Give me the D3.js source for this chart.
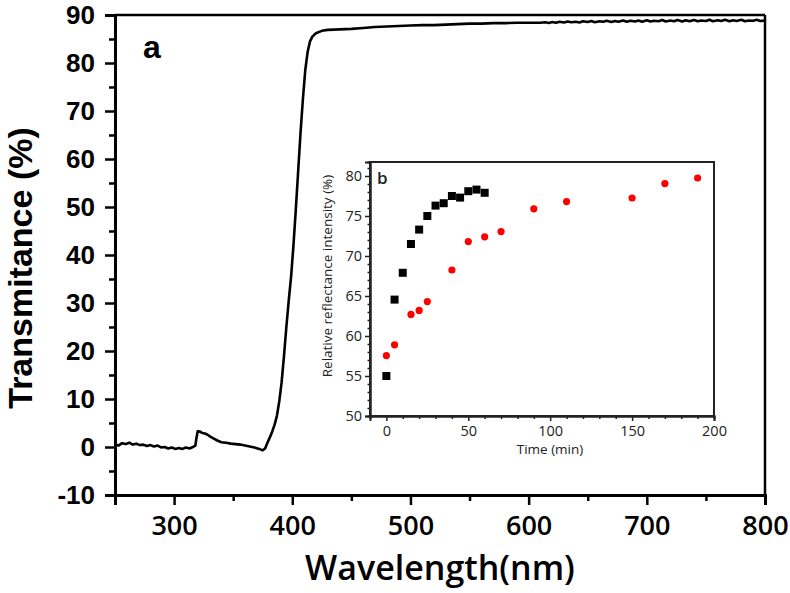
<!DOCTYPE html>
<html><head><meta charset="utf-8">
<script src="https://cdn.jsdelivr.net/npm/d3@7"></script>
<style>body{margin:0;background:#fff}svg{display:block}</style>
</head><body>
<svg id="c" width="790" height="593"></svg>
<script>
// Main spectrum (wavelength nm, transmitance %)
const wavelength = [250,253,256,259,262,265,268,271,274,277,280,283,286,289,292,295,298,301,304,307,310,313,316,318,319,320,322,324,326,328,331,334,337,340,344,348,352,356,360,364,368,372,375,377,379,381,383,385,387,389,391,393,395,397,399,401,403,405,407,409,411,413,415,417,420,425,430,440,450,460,470,480,490,500,510,520,530,540,550,560,570,580,590,600,610,614,617,620,623,626,630,633,636,640,643,646,650,653,656,660,663,666,670,673,676,680,683,686,690,693,696,700,703,706,710,713,716,720,723,726,730,733,736,740,743,746,750,753,756,760,763,766,770,773,776,780,783,786,790,793,796,800];
const transmitance = [0.5,0.3,0.8,0.6,0.9,0.5,0.7,0.4,0.5,0.2,0.4,0.1,0.3,-0.1,0.0,-0.3,-0.1,-0.4,-0.2,-0.4,-0.1,-0.3,0.0,0.3,2.0,3.3,3.2,2.9,2.8,2.6,2.1,1.7,1.3,1.0,0.9,0.7,0.6,0.5,0.3,0.1,-0.1,-0.4,-0.7,-0.3,0.9,2.0,3.2,4.6,6.5,9.5,13.5,19,25,30.5,35.5,42,49.5,57.5,65.5,72.5,78.5,82.3,84.5,85.5,86.2,86.7,86.9,87.0,87.1,87.3,87.5,87.6,87.7,87.8,87.9,87.9,88.0,88.1,88.2,88.2,88.3,88.3,88.4,88.4,88.4,88.5,88.35,88.55,88.4,88.6,88.45,88.65,88.5,88.6,88.45,88.7,88.55,88.75,88.5,88.7,88.6,88.8,88.55,88.75,88.6,88.85,88.6,88.8,88.65,88.85,88.6,88.9,88.65,88.8,88.7,88.95,88.65,88.85,88.7,88.95,88.65,88.9,88.7,88.95,88.7,88.85,88.75,89.0,88.7,88.9,88.75,89.0,88.7,88.9,88.75,89.0,88.7,88.85,88.8,89.0,88.75,88.85];
const xTicksMain = [300,400,500,600,700,800];
const xMinorMain = [250,350,450,550,650,750];
const yTicksMain = [-10,0,10,20,30,40,50,60,70,80,90];
const yMinorMain = [-5,5,15,25,35,45,55,65,75,85];

// Inset (time min, relative reflectance intensity %)
const timeBlack = [0,5,10,15,20,25,30,35,40,45,50,55,60];
const valueBlack = [55.0,64.55,67.9,71.5,73.3,75.0,76.3,76.6,77.5,77.3,78.1,78.3,77.9];
const timeRed = [0,5,15,20,25,40,50,60,70,90,110,150,170,190];
const valueRed = [57.55,58.9,62.7,63.2,64.3,68.25,71.8,72.4,73.05,75.9,76.8,77.25,79.05,79.75];
const xTicksInset = [0,50,100,150,200];
const yTicksInset = [50,55,60,65,70,75,80];

const svg = d3.select("#c");
const fmt = d => String(d);

// ---------- main plot ----------
const M = {l:115, r:765, t:15, b:495};
const x = d3.scaleLinear().domain([250,800]).range([M.l,M.r]);
const y = d3.scaleLinear().domain([-10,90]).range([M.b,M.t]);

svg.append("line").attr("x1",M.l).attr("x2",M.r).attr("y1",M.t).attr("y2",M.t).attr("stroke","#000").attr("stroke-width",2.5);
svg.append("line").attr("x1",M.r).attr("x2",M.r).attr("y1",M.t).attr("y2",M.b).attr("stroke","#000").attr("stroke-width",2.5);

const gx = svg.append("g").attr("transform",`translate(0,${M.b})`)
  .call(d3.axisBottom(x).tickValues(xTicksMain).tickSize(10).tickPadding(11).tickFormat(fmt));
gx.selectAll("text").attr("font-family","'Open Sans',sans-serif").attr("font-weight",600).attr("font-size",27).attr("fill","#000");
svg.append("g").attr("transform",`translate(0,${M.b})`)
  .call(d3.axisBottom(x).tickValues(xMinorMain).tickSize(6).tickFormat(""))
  .select(".domain").remove();

const gy = svg.append("g").attr("transform",`translate(${M.l},0)`)
  .call(d3.axisLeft(y).tickValues(yTicksMain).tickSize(10).tickPadding(10).tickFormat(fmt));
gy.selectAll("text").attr("font-family","'Liberation Sans',Arial,sans-serif").attr("font-weight","bold").attr("font-size",26).attr("fill","#000");
svg.append("g").attr("transform",`translate(${M.l},0)`)
  .call(d3.axisLeft(y).tickValues(yMinorMain).tickSize(6).tickFormat(""))
  .select(".domain").remove();

svg.selectAll(".domain").attr("stroke","#000").attr("stroke-width",3);
svg.selectAll(".tick line").attr("stroke","#000").attr("stroke-width",2.5);

const line = d3.line().x((d,i)=>x(wavelength[i])).y(d=>y(d));
svg.append("path").datum(transmitance).attr("d",line).attr("fill","none")
  .attr("stroke","#000").attr("stroke-width",2.6).attr("stroke-linejoin","round");

svg.append("text").attr("x",143).attr("y",58).text("a")
  .attr("font-family","'Liberation Sans',Arial,sans-serif").attr("font-weight","bold").attr("font-size",32);
svg.append("text").attr("transform","translate(32,268) rotate(-90)").attr("text-anchor","middle")
  .text("Transmitance (%)").attr("font-family","'Liberation Sans',Arial,sans-serif").attr("font-weight","bold").attr("font-size",34);
svg.append("text").attr("x",440).attr("y",580).attr("text-anchor","middle")
  .text("Wavelength(nm)").attr("font-family","'Open Sans',sans-serif").attr("font-weight",600).attr("font-size",34);

// ---------- inset ----------
const I = {l:370, r:714, t:162, b:416};
const xi = d3.scaleLinear().domain([-10,200]).range([I.l,I.r]);
const yi = d3.scaleLinear().domain([50,81.75]).range([I.b,I.t]);

svg.append("rect").attr("x",I.l).attr("y",I.t).attr("width",I.r-I.l).attr("height",I.b-I.t)
  .attr("fill","#fff").attr("stroke","#222").attr("stroke-width",2);

const ins = svg.append("g").attr("class","inset");
ins.append("g").attr("transform",`translate(0,${I.b})`)
  .call(d3.axisBottom(xi).tickValues(xTicksInset).tickSize(5).tickPadding(5).tickFormat(fmt));
ins.append("g").attr("transform",`translate(0,${I.b})`)
  .call(d3.axisBottom(xi).tickValues(d3.range(-10,201,10).filter(v=>v%50!==0)).tickSize(3).tickFormat(""));
ins.append("g").attr("transform",`translate(${I.l},0)`)
  .call(d3.axisLeft(yi).tickValues(yTicksInset).tickSize(5).tickPadding(3).tickFormat(fmt));
ins.append("g").attr("transform",`translate(${I.l},0)`)
  .call(d3.axisLeft(yi).tickValues(d3.range(51,82,1).filter(v=>v%5!==0)).tickSize(2.5).tickFormat(""));
ins.selectAll(".domain").attr("stroke","#222").attr("stroke-width",2);
ins.selectAll(".tick line").attr("stroke","#222").attr("stroke-width",1.5);
ins.selectAll("text").attr("font-family","'Open Sans',sans-serif").attr("font-size",14.5).attr("fill","#222");

svg.append("text").attr("x",377).attr("y",184).text("b")
  .attr("font-family","'Open Sans',sans-serif").attr("font-weight",600).attr("font-size",17).attr("fill","#222");
svg.append("text").attr("transform","translate(332,276) rotate(-90)").attr("text-anchor","middle")
  .text("Relative reflectance intensity (%)").attr("font-family","'Open Sans',sans-serif").attr("font-size",13.5).attr("fill","#222");
svg.append("text").attr("x",550).attr("y",454).attr("text-anchor","middle")
  .text("Time (min)").attr("font-family","'Open Sans',sans-serif").attr("font-size",13.5).attr("fill","#222");

svg.append("g").selectAll("rect").data(valueBlack).join("rect")
  .attr("x",(d,i)=>xi(timeBlack[i])-4).attr("y",d=>yi(d)-4).attr("width",8).attr("height",8).attr("fill","#000");
svg.append("g").selectAll("circle").data(valueRed).join("circle")
  .attr("cx",(d,i)=>xi(timeRed[i])).attr("cy",d=>yi(d)).attr("r",3.6).attr("fill","#f00");
</script>
</body></html>
